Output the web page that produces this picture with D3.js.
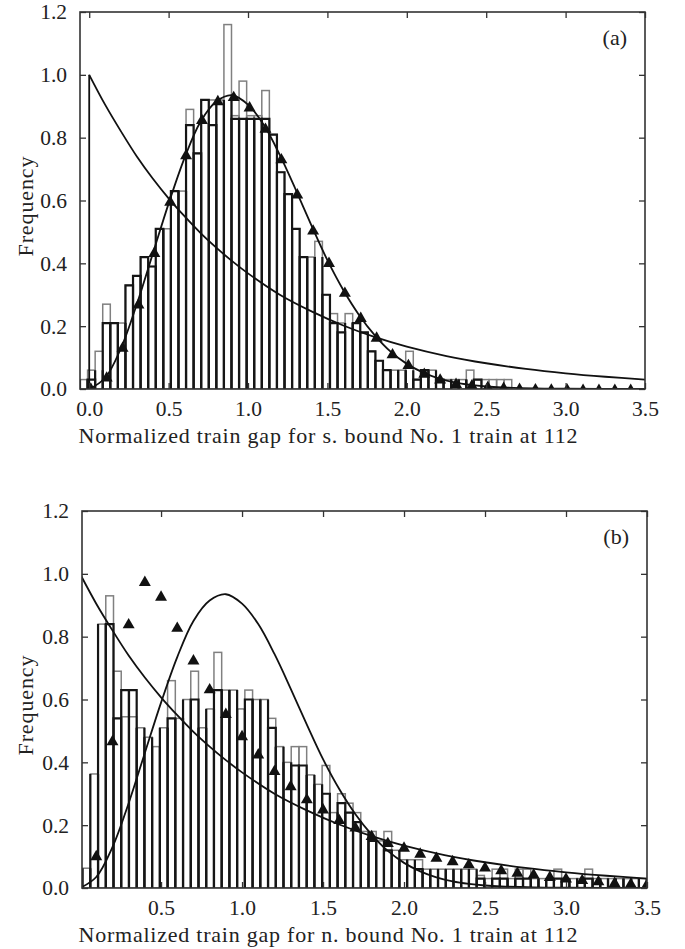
<!DOCTYPE html>
<html>
<head>
<meta charset="utf-8">
<script src="https://cdn.jsdelivr.net/npm/d3@7"></script>
<style>
body { margin: 0; background: #fff; }
text { font-family: "Liberation Serif", "DejaVu Serif", serif; fill: #222; }
</style>
</head>
<body>
<svg id="chart"></svg>
<script>
// bin width of both histograms (normalized units)
var binWidth = 0.0477;

// panel (a): histogram heights per bin, from the first bin edge on the left
var grayA = [0.03, 0, 0.06, 0.12, 0.27, 0.21, 0.21, 0.33, 0.36, 0.42,
             0.39, 0.51, 0.51, 0.63, 0.63, 0.89, 0.75, 0.92, 0.92, 0.92,
             1.16, 0.87, 0.98, 0.87, 0.87, 0.95, 0.81, 0.69, 0.62, 0.51,
             0.42, 0.42, 0.47, 0.30, 0.24, 0.21, 0.24, 0.21, 0.18, 0.12,
             0.09, 0.06, 0.06, 0.06, 0.12, 0.03, 0.06, 0.06, 0.03, 0.03,
             0.03, 0.03, 0.06, 0, 0.03, 0, 0, 0, 0.03, 0,
             0, 0.03, 0, 0, 0, 0, 0, 0.03, 0, 0,
             0, 0, 0.03, 0];
var blackA = [0.03, 0, 0.03, 0.06, 0.21, 0.21, 0.21, 0.33, 0.36, 0.42,
              0.39, 0.51, 0.51, 0.63, 0.63, 0.84, 0.75, 0.92, 0.84, 0.92,
              0.92, 0.86, 0.86, 0.86, 0.86, 0.86, 0.81, 0.69, 0.62, 0.51,
              0.42, 0.42, 0.42, 0.30, 0.21, 0.18, 0.21, 0.21, 0.18, 0.12,
              0.09, 0.06, 0.06, 0.06, 0.06, 0.03, 0.06, 0.06, 0.03, 0.03,
              0.03, 0.03, 0.03, 0, 0.03, 0, 0, 0, 0, 0,
              0, 0, 0, 0, 0, 0, 0, 0, 0, 0,
              0, 0, 0, 0];
var triXA = [0.01, 0.11, 0.21, 0.31, 0.41, 0.51, 0.61, 0.71, 0.81, 0.91,
             1.01, 1.11, 1.21, 1.31, 1.41, 1.51, 1.61, 1.71, 1.81, 1.91,
             2.01, 2.11, 2.21, 2.31, 2.41, 2.51, 2.61, 2.71, 2.81, 2.91,
             3.01, 3.11, 3.21, 3.31, 3.41];
var triYA = [0.005, 0.04, 0.135, 0.273, 0.437, 0.60, 0.748, 0.86, 0.92, 0.933,
             0.90, 0.832, 0.735, 0.623, 0.508, 0.405, 0.31, 0.23, 0.167, 0.114,
             0.08, 0.052, 0.034, 0.02, 0.015, 0.01, 0.007, 0.004, 0.003, 0.002,
             0.002, 0.001, 0.001, 0.001, 0.001];

// panel (b)
var grayB = [0.063, 0.363, 0.84, 0.93, 0.69, 0.545, 0.545, 0.51, 0.48, 0.45,
             0.51, 0.66, 0.54, 0.60, 0.69, 0.51, 0.57, 0.75, 0.63, 0.63,
             0.57, 0.63, 0.60, 0.60, 0.54, 0.45, 0.40, 0.45, 0.45, 0.36,
             0.33, 0.39, 0.24, 0.30, 0.27, 0.24, 0.18, 0.18, 0.15, 0.18,
             0.12, 0.09, 0.09, 0.09, 0.06, 0.06, 0.06, 0.06, 0.06, 0.06,
             0.06, 0.04, 0.03, 0.06, 0.06, 0.03, 0.06, 0.06, 0.03, 0.03,
             0.03, 0.06, 0.03, 0.03, 0.03, 0.06, 0.03, 0.03, 0.03, 0.03,
             0.03, 0.03, 0.03];
var blackB = [0.063, 0.363, 0.84, 0.84, 0.54, 0.63, 0.63, 0.51, 0.48, 0.45,
              0.51, 0.54, 0.54, 0.60, 0.60, 0.51, 0.57, 0.63, 0.63, 0.63,
              0.57, 0.60, 0.60, 0.60, 0.51, 0.45, 0.40, 0.39, 0.39, 0.36,
              0.33, 0.30, 0.24, 0.27, 0.24, 0.21, 0.18, 0.15, 0.15, 0.12,
              0.12, 0.09, 0.09, 0.06, 0.06, 0.06, 0.06, 0.06, 0.06, 0.06,
              0.06, 0.03, 0.03, 0.03, 0.03, 0.03, 0.03, 0.03, 0.03, 0.03,
              0.03, 0.03, 0.03, 0.03, 0.03, 0.03, 0.03, 0.03, 0.03, 0.03,
              0.03, 0.03, 0.03];
var triXB = [0.1, 0.2, 0.3, 0.4, 0.5, 0.6, 0.7, 0.8, 0.9, 1.0,
             1.1, 1.2, 1.3, 1.4, 1.5, 1.6, 1.7, 1.8, 1.9, 2.0,
             2.1, 2.2, 2.3, 2.4, 2.5, 2.6, 2.7, 2.8, 2.9, 3.0,
             3.1, 3.2, 3.3, 3.4, 3.5];
var triYB = [0.105, 0.471, 0.843, 0.978, 0.931, 0.832, 0.728, 0.636, 0.558, 0.487,
             0.429, 0.376, 0.328, 0.286, 0.254, 0.22, 0.196, 0.169, 0.147, 0.132,
             0.113, 0.10, 0.089, 0.079, 0.069, 0.06, 0.052, 0.047, 0.039, 0.034,
             0.029, 0.025, 0.02, 0.017, 0.015];

// reference curves (same in both panels)
var expX = [0, 0.1, 0.2, 0.3, 0.4, 0.5, 0.6, 0.7, 0.8, 0.9, 1.0, 1.2, 1.4, 1.6,
            1.8, 2.0, 2.25, 2.5, 2.75, 3.0, 3.25, 3.5];
var expY = [1.0, 0.905, 0.82, 0.74, 0.67, 0.607, 0.55, 0.497, 0.45, 0.407, 0.368,
            0.30, 0.247, 0.202, 0.165, 0.135, 0.105, 0.082, 0.064, 0.05, 0.039, 0.03];
var fitX = [0, 0.1, 0.2, 0.3, 0.4, 0.5, 0.6, 0.7, 0.8, 0.9, 1.0, 1.1, 1.2, 1.3,
            1.4, 1.5, 1.6, 1.7, 1.8, 1.9, 2.0, 2.1, 2.2, 2.3, 2.4, 2.5, 2.6, 2.8, 3.0, 3.5];
var fitY = [0, 0.035, 0.13, 0.27, 0.43, 0.59, 0.735, 0.85, 0.915, 0.935, 0.905,
            0.84, 0.745, 0.635, 0.52, 0.41, 0.315, 0.235, 0.17, 0.118, 0.08,
            0.053, 0.034, 0.021, 0.013, 0.008, 0.005, 0.002, 0.001, 0];

var yTicks = [0, 0.2, 0.4, 0.6, 0.8, 1.0, 1.2];
var xTicksA = [0, 0.5, 1.0, 1.5, 2.0, 2.5, 3.0, 3.5];
var xTicksB = [0.5, 1.0, 1.5, 2.0, 2.5, 3.0, 3.5];

var screen = {width: 685, height: 949};

var setup = function()
{
    var svg = d3.select("#chart")
        .attr("width", screen.width)
        .attr("height", screen.height);

    drawPanel(svg, {
        id: "a", left: 80, right: 645, top: 12, bottom: 389,
        xDomain: [-0.058, 3.5], binStart: -0.058,
        gray: grayA, black: blackA, triX: triXA, triY: triYA,
        xTicks: xTicksA, tag: "(a)",
        title: "Normalized train gap for s. bound No. 1 train at 112"
    });
    drawPanel(svg, {
        id: "b", left: 82, right: 647, top: 511, bottom: 888,
        xDomain: [0.012, 3.5], binStart: 0.0157,
        gray: grayB, black: blackB, triX: triXB, triY: triYB,
        xTicks: xTicksB, tag: "(b)",
        title: "Normalized train gap for n. bound No. 1 train at 112"
    });
}

var drawPanel = function(svg, p)
{
    var x = d3.scaleLinear().domain(p.xDomain).range([p.left, p.right]);
    var y = d3.scaleLinear().domain([0, 1.2]).range([p.bottom, p.top]);
    var fmt = d3.format(".1f");
    var x0 = function(i){ return x(p.binStart + i * binWidth); };
    var x1 = function(i){ return x(p.binStart + (i + 1) * binWidth); };

    svg.append("clipPath").attr("id", "clip" + p.id)
        .append("rect")
        .attr("x", p.left).attr("y", p.top)
        .attr("width", p.right - p.left).attr("height", p.bottom - p.top);

    var g = svg.append("g").attr("clip-path", "url(#clip" + p.id + ")");

    // gray histogram, outlined
    g.append("g").selectAll("rect")
        .data(p.gray)
        .enter()
        .filter(function(d){ return d > 0; })
        .append("rect")
        .attr("x", function(d, i){ return x0(i); })
        .attr("y", function(d){ return y(d); })
        .attr("width", function(d, i){ return x1(i) - x0(i); })
        .attr("height", function(d){ return y(0) - y(d); })
        .attr("fill", "none")
        .attr("stroke", "#808080")
        .attr("stroke-width", 1.5);

    // black histogram: sides always, top only where it differs from the gray one
    g.append("g").selectAll("path")
        .data(p.black)
        .enter()
        .filter(function(d){ return d > 0; })
        .append("path")
        .attr("d", function(d, i){
            var a = x0(i), b = x1(i), t = y(d), z = y(0);
            if (d === p.gray[i])
                return "M" + a + "," + z + "V" + t + "M" + b + "," + z + "V" + t;
            return "M" + a + "," + z + "V" + t + "H" + b + "V" + z;
        })
        .attr("fill", "none")
        .attr("stroke", "#151515")
        .attr("stroke-width", 2.2);

    // exponential curve, with its jump at zero
    var expPts = expX.map(function(v, i){ return [v, expY[i]]; });
    var line = d3.line()
        .x(function(d){ return x(d[0]); })
        .y(function(d){ return y(d[1]); });
    g.append("path")
        .attr("d", line([[expX[0], 0], [expX[0], expY[0]]]))
        .attr("fill", "none").attr("stroke", "#111").attr("stroke-width", 1.8);
    g.append("path")
        .attr("d", line.curve(d3.curveCatmullRom)(expPts))
        .attr("fill", "none").attr("stroke", "#111").attr("stroke-width", 1.8);

    var fitPts = fitX.map(function(v, i){ return [v, fitY[i]]; });
    g.append("path")
        .attr("d", line.curve(d3.curveCatmullRom)(fitPts))
        .attr("fill", "none").attr("stroke", "#111").attr("stroke-width", 1.8);

    // triangles, centred on their bounding box
    var triSize = 62;
    var shift = Math.sqrt(triSize / (Math.sqrt(3) * 3)) / 2;
    var tri = d3.symbol().type(d3.symbolTriangle).size(triSize);
    g.append("g").selectAll("path")
        .data(p.triX)
        .enter()
        .append("path")
        .attr("d", tri)
        .attr("transform", function(d, i){ return "translate(" + x(d) + "," + (y(p.triY[i]) + shift) + ")"; })
        .attr("fill", "#111");

    // axes with inward ticks
    var ax = svg.append("g").attr("class", "axis");
    ax.append("g")
        .attr("transform", "translate(0," + p.bottom + ")")
        .call(d3.axisBottom(x).tickValues(p.xTicks).tickFormat(fmt).tickSizeInner(-6).tickSizeOuter(0).tickPadding(12));
    ax.append("g")
        .attr("transform", "translate(0," + p.top + ")")
        .call(d3.axisTop(x).tickValues(p.xTicks).tickFormat("").tickSizeInner(-6).tickSizeOuter(0));
    ax.append("g")
        .attr("transform", "translate(" + p.left + ",0)")
        .call(d3.axisLeft(y).tickValues(yTicks).tickFormat(fmt).tickSizeInner(-6).tickSizeOuter(0).tickPadding(13));
    ax.append("g")
        .attr("transform", "translate(" + p.right + ",0)")
        .call(d3.axisRight(y).tickValues(yTicks).tickFormat("").tickSizeInner(-6).tickSizeOuter(0));

    ax.selectAll(".domain").remove();
    ax.selectAll(".tick line").attr("stroke", "#333").attr("stroke-width", 1.3);
    ax.selectAll("text")
        .attr("font-family", "Liberation Serif, serif")
        .attr("font-size", 21.5)
        .attr("fill", "#222");

    svg.append("rect")
        .attr("x", p.left).attr("y", p.top)
        .attr("width", p.right - p.left).attr("height", p.bottom - p.top)
        .attr("fill", "none").attr("stroke", "#333").attr("stroke-width", 1.6);

    svg.append("text")
        .attr("x", 328).attr("y", p.bottom + 54)
        .attr("text-anchor", "middle")
        .attr("font-size", 22)
        .attr("textLength", 499)
        .attr("lengthAdjust", "spacing")
        .text(p.title);

    svg.append("text")
        .attr("transform", "translate(33," + ((p.top + p.bottom) / 2 + 6) + ") rotate(-90)")
        .attr("text-anchor", "middle")
        .attr("font-size", 22)
        .attr("textLength", 100)
        .attr("lengthAdjust", "spacing")
        .text("Frequency");

    svg.append("text")
        .attr("x", p.right - 18).attr("y", p.top + 33)
        .attr("text-anchor", "end")
        .attr("font-size", 22)
        .text(p.tag);
}

setup();
</script>
</body>
</html>
